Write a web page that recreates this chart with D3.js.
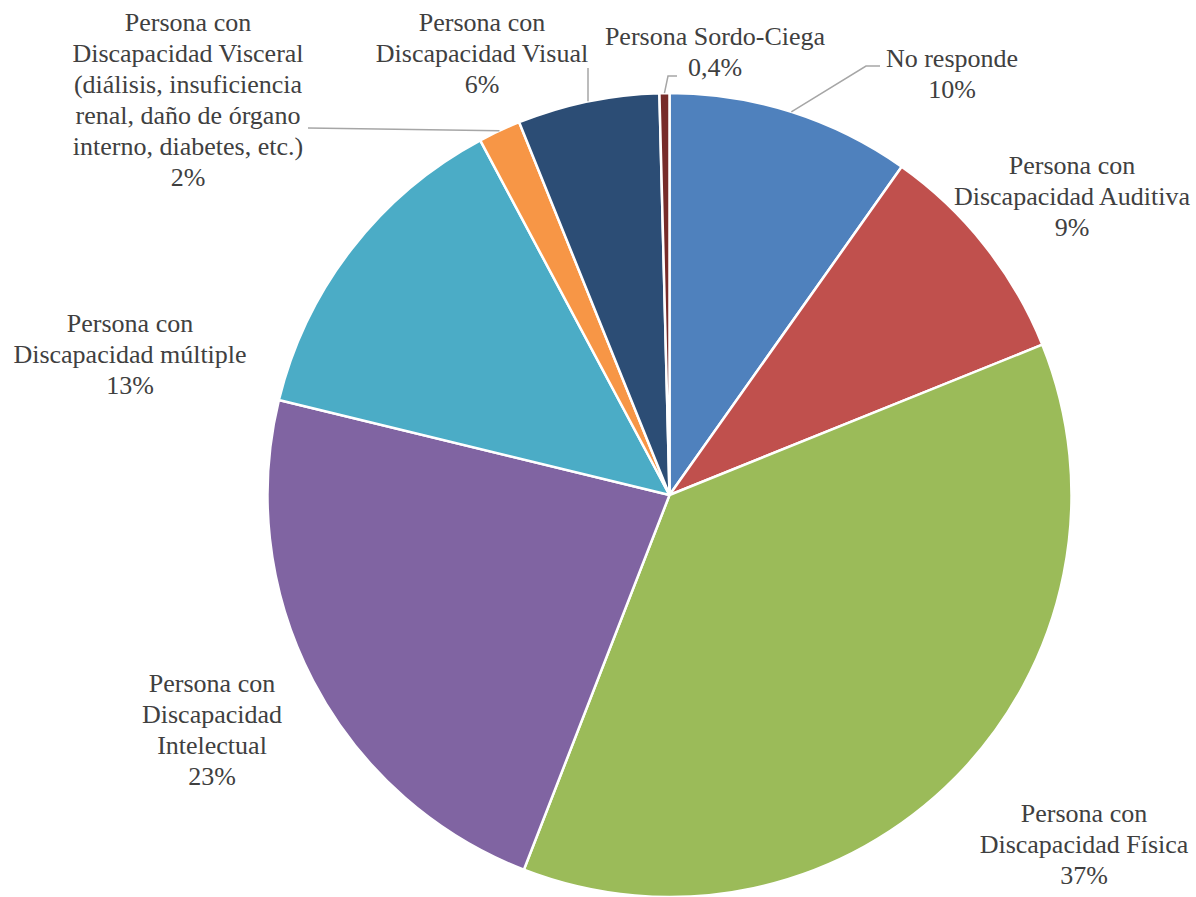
<!DOCTYPE html>
<html>
<head>
<meta charset="utf-8">
<script src="https://cdn.jsdelivr.net/npm/d3@7"></script>
<style>
  body { margin: 0; background: #fff; }
  svg { display: block; }
</style>
</head>
<body>
<div id="chart"></div>
<script>
// data, clockwise from 12 o'clock
const categories = [
  "No responde",
  "Persona con Discapacidad Auditiva",
  "Persona con Discapacidad Física",
  "Persona con Discapacidad Intelectual",
  "Persona con Discapacidad múltiple",
  "Persona con Discapacidad Visceral (diálisis, insuficiencia renal, daño de órgano interno, diabetes, etc.)",
  "Persona con Discapacidad Visual",
  "Persona Sordo-Ciega"
];
const values = [9.8, 9.1, 37.0, 22.9, 13.4, 1.7, 5.7, 0.4];
const pctLabels = ["10%", "9%", "37%", "23%", "13%", "2%", "6%", "0,4%"];
const labelLines = [
  ["No responde"],
  ["Persona con", "Discapacidad Auditiva"],
  ["Persona con", "Discapacidad Física"],
  ["Persona con", "Discapacidad", "Intelectual"],
  ["Persona con", "Discapacidad múltiple"],
  ["Persona con", "Discapacidad Visceral", "(diálisis, insuficiencia", "renal, daño de órgano", "interno, diabetes, etc.)"],
  ["Persona con", "Discapacidad Visual"],
  ["Persona Sordo-Ciega"]
];
const colors = ["#4f81bd", "#c0504d", "#9bbb59", "#8064a2", "#4bacc6", "#f79646", "#2c4d75", "#772c2a"];

const width = 1196, height = 897;
const cx = 669.5, cy = 495, r = 402;
const lineH = 31;
const fontFamily = "Times New Roman, Times, Liberation Serif, Noto Serif, DejaVu Serif, FreeSerif, serif";

// label placement: centre x, first baseline, optional leader elbow
const layout = [
  { x: 952, y: 67, leader: [[880, 66], [866, 66]] },
  { x: 1072, y: 174 },
  { x: 1084, y: 822 },
  { x: 212, y: 692 },
  { x: 130, y: 332 },
  { x: 188, y: 31, leader: [[308, 128]] },
  { x: 482, y: 31, leader: [[588, 68]] },
  { x: 715, y: 45, leader: [[677, 76], [668, 76]] }
];

const svg = d3.select("#chart").append("svg")
  .attr("width", width)
  .attr("height", height);

const pie = d3.pie().sort(null).value(d => d)(values);
const arc = d3.arc().innerRadius(0).outerRadius(r);

const g = svg.append("g").attr("transform", "translate(" + cx + "," + cy + ")");

g.selectAll("path.slice")
  .data(pie)
  .enter().append("path")
  .attr("class", "slice")
  .attr("d", arc)
  .attr("fill", (d, i) => colors[i])
  .attr("stroke", "#fff")
  .attr("stroke-width", 2.5)
  .attr("stroke-linejoin", "round");

// leader lines: from label elbow to the slice edge at mid angle
pie.forEach((d, i) => {
  const L = layout[i];
  if (!L.leader) return;
  const mid = (d.startAngle + d.endAngle) / 2;
  const edge = [cx + Math.sin(mid) * r, cy - Math.cos(mid) * r];
  svg.append("path")
    .attr("d", d3.line()(L.leader.concat([edge])))
    .attr("fill", "none")
    .attr("stroke", "#a6a6a6")
    .attr("stroke-width", 1.5);
});

// labels
labelLines.forEach((lines, i) => {
  const L = layout[i];
  const t = svg.append("text")
    .style("font-family", fontFamily)
    .attr("font-size", 26)
    .attr("fill", "#404040")
    .attr("text-anchor", "middle");
  lines.concat([pctLabels[i]]).forEach((s, k) => {
    t.append("tspan")
      .attr("x", L.x)
      .attr("y", L.y + k * lineH)
      .text(s);
  });
});
</script>
</body>
</html>
